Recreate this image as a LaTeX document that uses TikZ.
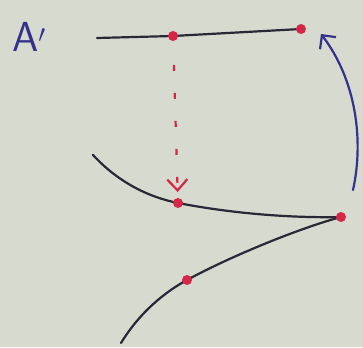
\documentclass[tikz,border=0pt]{standalone}
\usepackage{tikz}
\usetikzlibrary{arrows.meta}

\definecolor{paper}{RGB}{214,218,207}
\definecolor{pen}{RGB}{40,40,55}
\definecolor{redpen}{RGB}{214,38,72}
\definecolor{bluepen}{RGB}{52,50,138}

\begin{document}
\begin{tikzpicture}[x=1pt,y=-1pt,
    dot/.style={circle,fill=redpen,inner sep=0pt,minimum size=10pt},
    curve/.style={pen,line width=2.2pt,line cap=round}]
    % --- sheet ---
    \fill[paper] (0,0) rectangle (363,347);
    \useasboundingbox (0,0) rectangle (363,347);

    % --- points ---
    \coordinate (P) at (173,36);
    \coordinate (Q) at (301,29);
    \coordinate (R) at (178,203);
    \coordinate (S) at (341,217);
    \coordinate (T) at (187,280);
    \coordinate (a) at (97,38);
    \coordinate (b) at (93,155);
    \coordinate (c) at (121,343);
    \coordinate (u) at (353,190);

    % --- curves ---
    \draw[curve] (a) -- (P) -- (Q);
    \draw[curve] (b) .. controls (118,182) and (148,197) .. (R)
                     .. controls (240,215) and (300,218) .. (S);
    \draw[curve] (c) .. controls (140,312) and (165,292) .. (T)
                     .. controls (231,256) and (300,228) .. (S);

    % --- arrows ---
    \draw[bluepen,line width=2.2pt,line cap=round,
          -{Straight Barb[length=10pt,width=20pt]}]
        (u) .. controls (364,140) and (356,80) .. (321,34);
    \draw[redpen,line width=2.2pt,dash pattern=on 6pt off 22pt,
          shorten <=29pt,shorten >=11pt,
          -{Straight Barb[length=11pt,width=20pt]}] (P) -- (R);

    % --- dots ---
    \node[dot] (p) at (P) {};
    \node[dot] (q) at (Q) {};
    \node[dot] (r) at (R) {};
    \node[dot] (s) at (S) {};
    \node[dot] (t) at (T) {};

    \node[bluepen,font=\sffamily\fontsize{42}{42}\selectfont] (lbl) at (29,37) {A$'$};
\end{tikzpicture}
\end{document}
